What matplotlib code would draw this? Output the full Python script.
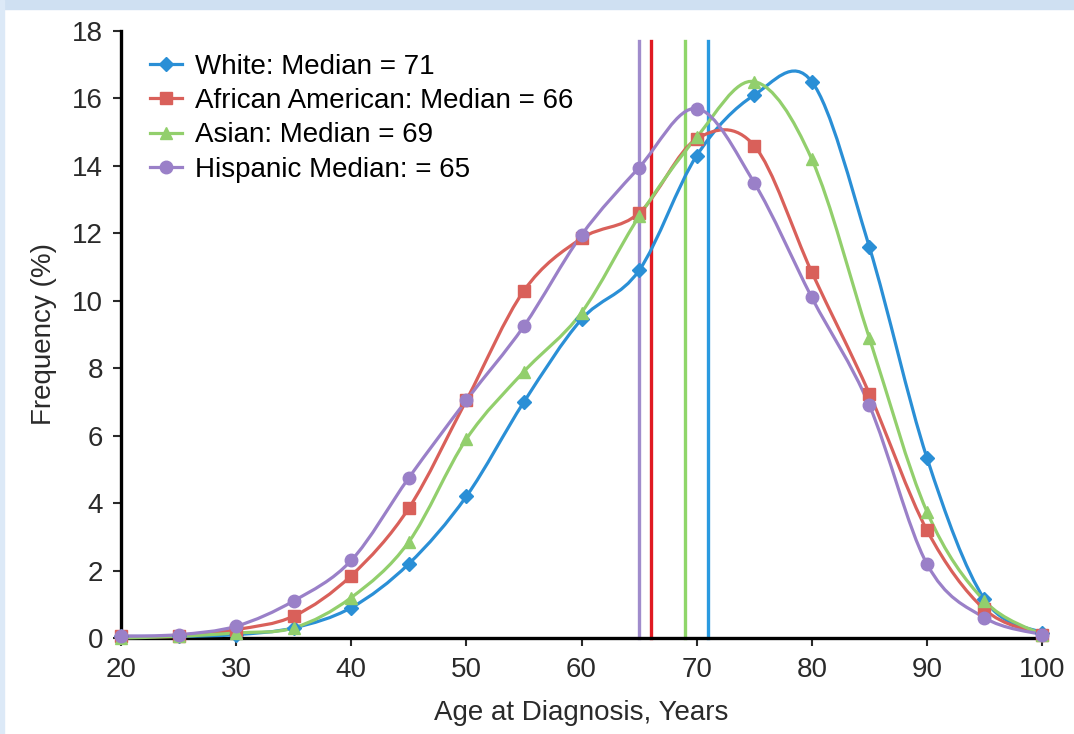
import matplotlib

matplotlib.use("Agg")

import matplotlib.pyplot as plt
from matplotlib.lines import Line2D
from matplotlib.patches import PathPatch, Rectangle
from matplotlib.path import Path

plt.rcParams["font.family"] = ["Liberation Sans", "DejaVu Sans"]

ages = [20, 25, 30, 35, 40, 45, 50, 55, 60, 65, 70, 75, 80, 85, 90, 95, 100]

white = [0.05, 0.05, 0.1, 0.3, 0.9, 2.2, 4.2, 7.0, 9.45, 10.9, 14.3, 16.1, 16.5, 11.6, 5.35, 1.15, 0.15]
african_american = [0.05, 0.05, 0.25, 0.65, 1.85, 3.85, 7.05, 10.3, 11.85, 12.6, 14.8, 14.6, 10.85, 7.25, 3.2, 0.85, 0.1]
asian = [0.0, 0.05, 0.15, 0.3, 1.2, 2.85, 5.9, 7.9, 9.65, 12.5, 14.85, 16.5, 14.2, 8.9, 3.75, 1.1, 0.1]
hispanic = [0.05, 0.1, 0.35, 1.1, 2.3, 4.75, 7.05, 9.25, 11.95, 13.95, 15.7, 13.5, 10.1, 6.9, 2.2, 0.6, 0.1]

labels = [
    "White: Median = 71",
    "African American: Median = 66",
    "Asian: Median = 69",
    "Hispanic Median: = 65",
]
medians = [71, 66, 69, 65]
median_line_top = 17.7

line_colors = ["#2a8fd6", "#d9605a", "#92cf6c", "#9a80c8"]
median_colors = ["#2a9ae0", "#e01a22", "#8fd66a", "#a08ccc"]
markers = ["D", "s", "^", "o"]
marker_sizes = [7, 8.5, 8.5, 9]

TEXT_COLOR = "#2a2a2a"
FONT_SIZE = 20


def smooth_path(xs, ys):
    # Excel-style smoothed line: cubic Bezier segments through the points
    pts = list(zip(xs, ys))
    verts = [pts[0]]
    codes = [Path.MOVETO]
    n = len(pts)
    for i in range(n - 1):
        p0 = pts[i - 1] if i > 0 else pts[i]
        p1 = pts[i]
        p2 = pts[i + 1]
        p3 = pts[i + 2] if i + 2 < n else pts[i + 1]
        c1 = (p1[0] + (p2[0] - p0[0]) / 6, p1[1] + (p2[1] - p0[1]) / 6)
        c2 = (p2[0] - (p3[0] - p1[0]) / 6, p2[1] - (p3[1] - p1[1]) / 6)
        verts += [c1, c2, p2]
        codes += [Path.CURVE4] * 3
    return Path(verts, codes)


fig = plt.figure(figsize=(10.74, 7.34), dpi=100)
fig.patches.append(Rectangle((0, 1 - 9 / 734), 1, 9 / 734, transform=fig.transFigure,
                             color="#cfe0f2", zorder=0))
fig.patches.append(Rectangle((0, 0), 4 / 1074, 1, transform=fig.transFigure,
                             color="#dce9f7", zorder=0))

ax = fig.add_axes([121 / 1074, 1 - 638 / 734, (1042 - 121) / 1074, (638 - 31) / 734])

series = [white, african_american, asian, hispanic]
handles = []
for values, color, marker, ms, label in zip(series, line_colors, markers, marker_sizes, labels):
    ax.add_patch(PathPatch(smooth_path(ages, values), facecolor="none", edgecolor=color,
                           linewidth=2.3, clip_on=False, zorder=3))
    ax.plot(ages, values, linestyle="none", marker=marker, markersize=ms, color=color,
            clip_on=False, zorder=4)
    handles.append(Line2D([], [], color=color, marker=marker, markersize=ms, linewidth=2.3,
                          label=label))

for median, color in zip(medians, median_colors):
    ax.plot([median, median], [0, median_line_top], color=color, linewidth=2.4,
            clip_on=False, zorder=2)

ax.set_xlim(20, 100)
ax.set_ylim(0, 18)
ax.set_xticks(range(20, 101, 10))
ax.set_yticks(range(0, 19, 2))
for side in ["top", "right"]:
    ax.spines[side].set_visible(False)
for side in ["left", "bottom"]:
    ax.spines[side].set_linewidth(2.4)
ax.tick_params(direction="out", length=6, width=1.5, labelsize=FONT_SIZE, colors=TEXT_COLOR,
               pad=8)
ax.tick_params(axis="y", pad=7)
ax.set_xlabel("Age at Diagnosis, Years", fontsize=FONT_SIZE, color=TEXT_COLOR, labelpad=12)
ax.set_ylabel("Frequency (%)", fontsize=FONT_SIZE, color=TEXT_COLOR, labelpad=11)

ax.legend(handles=handles, loc="upper left", bbox_to_anchor=(0.0195, 0.981), frameon=False,
          fontsize=FONT_SIZE, handlelength=1.15, handletextpad=0.47, labelspacing=0.3,
          borderaxespad=0)

fig.savefig("out.png", dpi=100)
plt.close(fig)
